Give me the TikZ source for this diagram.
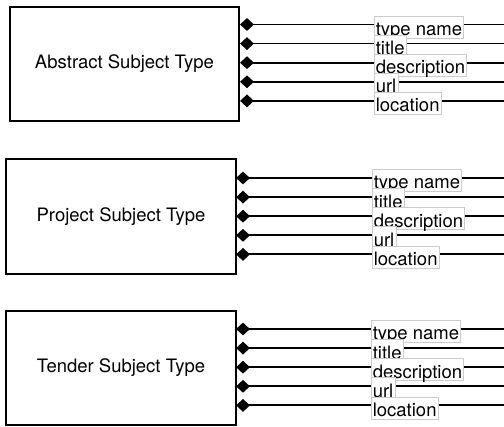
\documentclass[tikz,border=0pt]{standalone}
\usepackage{fontspec}
\setmainfont{TeX Gyre Heros}
\usetikzlibrary{shapes.geometric}
\begin{document}
\begin{tikzpicture}[x=1pt,y=-1pt,
  entity/.style={draw, line width=1.5pt, rectangle, inner sep=0pt, font=\fontsize{18.5}{20}\selectfont},
  conn/.style={diamond, fill=black, inner sep=0pt, minimum width=14pt, minimum height=13pt},
  attr/.style={draw=black!20, line width=0.6pt, fill=white, font=\fontsize{18.5}{20}\selectfont,
               inner xsep=1.5pt, inner ysep=1pt, text height=18.5pt, text depth=1.5pt, anchor=base west},
  link/.style={line width=1.8pt}]
\useasboundingbox (0,0) rectangle (504,427);
\foreach \i/\name/\cx/\cy/\w/\h/\dx/\ry/\lx in {
    1/Abstract/124.5/64/229/114/247/24.5/374,
    2/Project/121/216.5/230/115/243/178/372,
    3/Tender/121/368/230/114/243/329/371}{
  \node[entity, minimum width=\w pt, minimum height=\h pt] (b\i) at (\cx,\cy) {\name{} Subject Type};
  \foreach \k/\lab in {0/type name,1/title,2/description,3/url,4/location}{
    \coordinate (e\i-\k) at (504,{\ry+19.1*\k});
    \node[conn] (d\i-\k) at (\dx,{\ry+19.1*\k}) {};
    \draw[link] (d\i-\k.center) -- (e\i-\k);
    \node[attr] (l\i-\k) at (\lx,{\ry+19.1*\k+11}) {\lab};
  }
}
\end{tikzpicture}
\end{document}
